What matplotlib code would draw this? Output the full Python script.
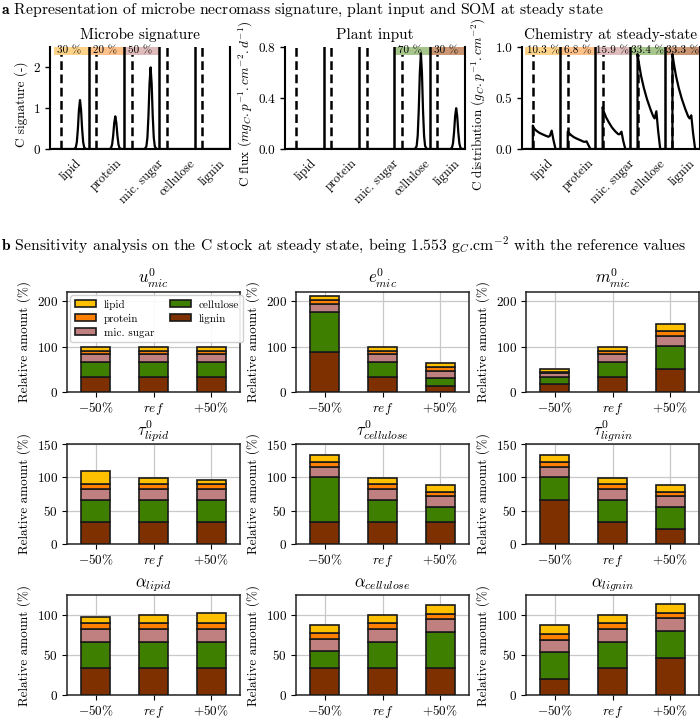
import numpy as np
import matplotlib
matplotlib.use("Agg")
import matplotlib.pyplot as plt
import matplotlib.transforms as mtransforms

plt.rcParams["font.family"] = ["cmr10", "DejaVu Serif"]
plt.rcParams["mathtext.fontset"] = "cm"
plt.rcParams["axes.formatter.use_mathtext"] = True

# pools, in the order of the x axis (part a) and of the legend (part b)
pools = ["lipid", "protein", "mic. sugar", "cellulose", "lignin"]
bar_colors = ["#ffc000", "#ff7f00", "#c08080", "#3f7f00", "#7f3000"]
band_colors = ["#fdd38a", "#fcc088", "#e0bbbb", "#a6c68c", "#c99572"]

# part a: peaks (height of each pool's peak)
signature_peak = [1.2, 0.8, 2.0, 0.0, 0.0]
plant_peak = [0.0, 0.0, 0.0, 0.75, 0.32]
# shape of a peak around its centre (offset from centre, fraction of height)
peak_dx = [-0.75, -0.17, -0.12, -0.09, -0.06, -0.03, 0.0, 0.03, 0.06, 0.09, 0.12, 0.17, 0.25]
peak_shape = [0, 0, 0.03, 0.14, 0.41, 0.80, 1.0, 0.80, 0.41, 0.14, 0.03, 0, 0]

signature_share = ["30 %", "20 %", "50 %", None, None]
plant_share = [None, None, None, "70 %", "30 %"]
steady_share = ["10.3 %", "6.8 %", "15.9 %", "33.4 %", "33.3 %"]

# steady state distribution inside each pool
chem_x = [0.0, 0.21, 0.21, 0.25, 0.31, 0.39, 0.48, 0.58, 0.66, 0.70, 0.75, 0.80, 0.86, 1.0]
lipid_y = [0, 0, 0.23, 0.20, 0.18, 0.16, 0.145, 0.13, 0.12, 0.13, 0.18, 0.09, 0, 0]
protein_y = [0, 0, 0.17, 0.155, 0.135, 0.115, 0.10, 0.085, 0.072, 0.07, 0.075, 0.04, 0, 0]
sugar_y = [0, 0, 0.41, 0.36, 0.31, 0.26, 0.21, 0.17, 0.145, 0.145, 0.17, 0.08, 0, 0]
cellulose_y = [0, 0, 0.93, 0.84, 0.72, 0.60, 0.49, 0.39, 0.32, 0.30, 0.37, 0.18, 0, 0]
lignin_y = [0, 0, 0.93, 0.84, 0.72, 0.60, 0.49, 0.39, 0.32, 0.30, 0.33, 0.16, 0, 0]
chem_y = [lipid_y, protein_y, sugar_y, cellulose_y, lignin_y]

dash_pos = 0.21

# part b: relative amounts (%) for -50%, ref, +50%; rows lipid..lignin
variants = [r"$-50\%$", r"$ref$", r"$+50\%$"]
u_mic = [[10.3, 10.3, 10.3], [6.8, 6.8, 6.8], [15.9, 15.9, 15.9], [33.4, 33.4, 33.4], [33.3, 33.3, 33.3]]
e_mic = [[8.5, 10.3, 9.0], [9.0, 6.8, 8.0], [17.0, 15.9, 16.0], [88.5, 33.4, 16.0], [88.5, 33.3, 14.0]]
m_mic = [[5.2, 10.3, 15.4], [3.4, 6.8, 10.2], [8.0, 15.9, 23.9], [16.7, 33.4, 50.1], [16.6, 33.3, 50.0]]
tau_lipid = [[20.6, 10.3, 6.9], [6.8, 6.8, 6.8], [15.9, 15.9, 15.9], [33.4, 33.4, 33.4], [33.3, 33.3, 33.3]]
tau_cellulose = [[10.3, 10.3, 10.3], [6.8, 6.8, 6.8], [15.9, 15.9, 15.9], [66.8, 33.4, 22.3], [33.3, 33.3, 33.3]]
tau_lignin = [[10.3, 10.3, 10.3], [6.8, 6.8, 6.8], [15.9, 15.9, 15.9], [33.4, 33.4, 33.4], [66.6, 33.3, 22.2]]
alpha_lipid = [[8.0, 10.3, 13.0], [6.8, 6.8, 6.8], [15.9, 15.9, 15.9], [33.4, 33.4, 33.4], [33.3, 33.3, 33.3]]
alpha_cellulose = [[10.6, 10.3, 10.9], [7.2, 6.8, 6.8], [15.9, 15.9, 15.9], [21.1, 33.4, 45.8], [33.3, 33.3, 33.3]]
alpha_lignin = [[10.8, 10.3, 11.1], [7.0, 6.8, 6.6], [15.6, 15.9, 16.1], [34.2, 33.4, 33.7], [19.5, 33.3, 46.5]]

sens_panels = [
    (r"$u^0_{mic}$", u_mic), (r"$e^0_{mic}$", e_mic), (r"$m^0_{mic}$", m_mic),
    (r"$\tau^0_{lipid}$", tau_lipid), (r"$\tau^0_{cellulose}$", tau_cellulose), (r"$\tau^0_{lignin}$", tau_lignin),
    (r"$\alpha_{lipid}$", alpha_lipid), (r"$\alpha_{cellulose}$", alpha_cellulose), (r"$\alpha_{lignin}$", alpha_lignin),
]
row_ylim = [220, 150, 125]
row_ticks = [[0, 100, 200], [0, 50, 100, 150], [0, 50, 100]]

W, H = 700, 720
fig = plt.figure(figsize=(W / 100, H / 100), dpi=100)


def px_axes(left, top, width, height):
    return fig.add_axes([left / W, 1 - (top + height) / H, width / W, height / H])


# ---------------- part a ----------------
fig.text(0.002, 1 - 10 / H, r"$\mathbf{a}$ Representation of microbe necromass signature, plant input and SOM at steady state",
         fontsize=11.3, va="center", ha="left")

axa = [px_axes(50, 47, 180, 102), px_axes(285, 47, 180, 102), px_axes(522, 47, 178, 102)]
titles_a = ["Microbe signature", "Plant input", "Chemistry at steady-state"]
ylabels_a = ["C signature (-)", r"C flux ($mg_C.p^{-1}.cm^{-2}.d^{-1}$)", r"C distribution ($g_C.p^{-1}.cm^{-2}$)"]
ylabel_x = [-0.12, -0.165, -0.19]
ylims_a = [(0, 2.5), (0, 0.8), (0, 1.0)]
yticks_a = [[0, 1, 2], [0.0, 0.4, 0.8], [0.0, 0.5, 1.0]]
yticklabels_a = [["0", "1", "2"], ["0.0", "0.4", "0.8"], ["0.0", "0.5", "1.0"]]
shares_a = [signature_share, plant_share, steady_share]

for k, ax in enumerate(axa):
    trans = mtransforms.blended_transform_factory(ax.transData, ax.transAxes)
    for i in range(5):
        if shares_a[k][i] is not None:
            ax.axvspan(i, i + 1, ymin=0.92, ymax=1.0, color=band_colors[i], lw=0, zorder=2)
            tx = i + 0.45 if len(shares_a[k][i]) < 5 else i + 0.5
            ax.text(tx, 0.96, shares_a[k][i], transform=trans, ha="center", va="center", fontsize=8, zorder=4)
        ax.axvline(i + dash_pos, color="k", lw=1.8, ls=(0, (3.5, 1.8)), zorder=1)
        if i > 0:
            ax.axvline(i, color="k", lw=1.8, zorder=3)

    if k < 2:
        heights = signature_peak if k == 0 else plant_peak
        xs, ys = [], []
        for i, h in enumerate(heights):
            xs += [i + 0.75 + d for d in peak_dx]
            ys += [h * s for s in peak_shape]
        ax.plot(xs, ys, color="k", lw=1.6, zorder=3)
    else:
        for i in range(5):
            ax.plot([i + x for x in chem_x], chem_y[i], color="k", lw=1.6, zorder=3)

    ax.set_xlim(-0.1, 5.0)
    ax.set_ylim(*ylims_a[k])
    ax.set_yticks(yticks_a[k])
    ax.set_yticklabels(yticklabels_a[k], fontsize=9.5)
    ax.set_xticks([i + 0.5 for i in range(5)])
    ax.set_xticklabels(pools, rotation=45, fontsize=9)
    ax.tick_params(axis="x", length=0, pad=6)
    ax.tick_params(axis="y", length=3.5, width=1)
    ax.set_title(titles_a[k], fontsize=11, pad=6)
    ax.set_ylabel(ylabels_a[k], fontsize=9.5)
    ax.yaxis.set_label_coords(ylabel_x[k], 0.44)
    ax.spines["top"].set_visible(False)
    for s in ["left", "bottom", "right"]:
        ax.spines[s].set_linewidth(1.5)

# ---------------- part b ----------------
fig.text(0.002, 1 - 245 / H,
         r"$\mathbf{b}$ Sensitivity analysis on the C stock at steady state, being 1.553 g$_C$.cm$^{-2}$ with the reference values",
         fontsize=11.3, va="center", ha="left")

lefts = [67, 296, 526]
tops = [292, 444, 595]
x = np.arange(3)
for n, (title, amounts) in enumerate(sens_panels):
    r, c = divmod(n, 3)
    ax = px_axes(lefts[c], tops[r], 173, 100)
    bottom = np.zeros(3)
    bars = {}
    for p in [4, 3, 2, 1, 0]:
        vals = np.array(amounts[p])
        bars[p] = ax.bar(x, vals, 0.5, bottom=bottom, color=bar_colors[p], edgecolor="#1a1a1a",
                         lw=1.2, zorder=3, label=pools[p])
        bottom = bottom + vals
    ax.set_xlim(-0.5, 2.5)
    ax.set_ylim(0, row_ylim[r])
    ax.set_yticks(row_ticks[r])
    ax.set_xticks(x)
    ax.set_xticklabels(variants)
    ax.tick_params(labelsize=9.5, length=3.5, pad=3)
    ax.grid(True, color="#c8c8c8", lw=0.9, zorder=0)
    ax.set_axisbelow(True)
    ax.set_title(title, fontsize=12, pad=6)
    ax.set_ylabel("Relative amount (%)", fontsize=9.5)
    for s in ax.spines.values():
        s.set_linewidth(1.1)
        s.set_color("#222222")
    if n == 0:
        ax.legend([bars[p] for p in range(5)], pools, ncol=2, loc="upper left", fontsize=8,
                  handlelength=1.9, handleheight=0.6, columnspacing=1.4, borderaxespad=0.3,
                  labelspacing=0.35, handletextpad=0.7, framealpha=0.9)

fig.savefig("out.png", dpi=100)
